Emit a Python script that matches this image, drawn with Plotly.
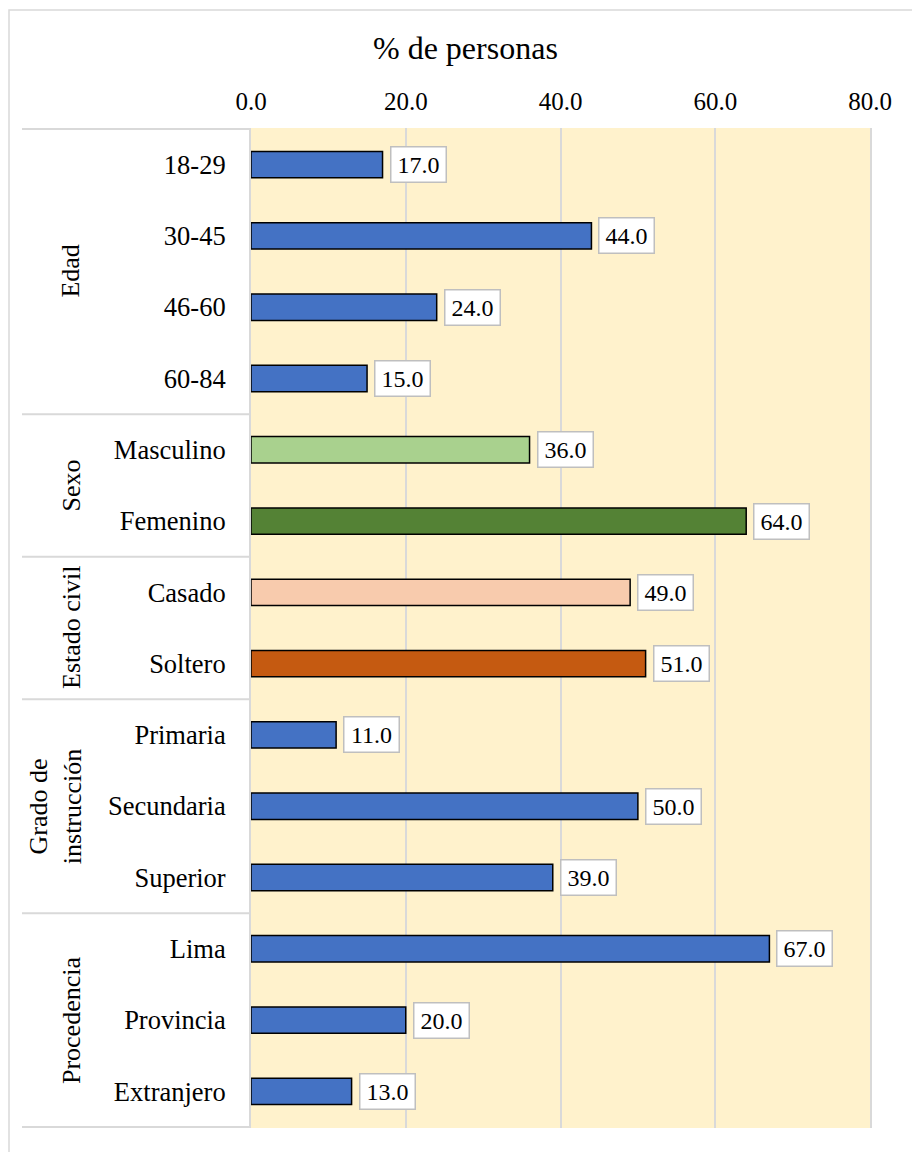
import plotly.graph_objects as go

# Characteristics of the surveyed people (% de personas)
categorias = ["18-29", "30-45", "46-60", "60-84",
              "Masculino", "Femenino",
              "Casado", "Soltero",
              "Primaria", "Secundaria", "Superior",
              "Lima", "Provincia", "Extranjero"]
porcentajes = [17.0, 44.0, 24.0, 15.0,
               36.0, 64.0,
               49.0, 51.0,
               11.0, 50.0, 39.0,
               67.0, 20.0, 13.0]
colores = ["#4472C4", "#4472C4", "#4472C4", "#4472C4",
           "#A9D18E", "#548235",
           "#F8CBAD", "#C55A11",
           "#4472C4", "#4472C4", "#4472C4",
           "#4472C4", "#4472C4", "#4472C4"]

# Groups: (label, first index, last index, label column x in px)
grupos = [("Edad", 0, 3, 71),
          ("Sexo", 4, 5, 71),
          ("Estado civil", 6, 7, 71),
          ("Grado de<br>instrucción", 8, 10, 55),
          ("Procedencia", 11, 13, 71)]
ticks_x = [0, 20, 40, 60, 80]

FONT = "Liberation Serif"
W, H = 912, 1152
L, R, T, B = 251, 42, 128, 24
plot_w = W - L - R
plot_h = H - T - B


def px_to_paper_x(px):
    return (px - L) / plot_w


def px_to_paper_y(py):
    return (H - B - py) / plot_h


fig = go.Figure()
fig.add_trace(go.Bar(
    x=porcentajes,
    y=categorias,
    orientation="h",
    width=0.37,
    marker=dict(color=colores, line=dict(color="#000000", width=1.5)),
    hoverinfo="x+y",
))

annotations = []
# Value labels in white boxes beside each bar
for cat, val in zip(categorias, porcentajes):
    annotations.append(dict(
        x=val, y=cat, xref="x", yref="y",
        text=f"{val:.1f}", showarrow=False,
        xanchor="left", yanchor="middle", xshift=7,
        width=46,
        font=dict(family=FONT, size=24, color="#000000"),
        bgcolor="#FFFFFF", bordercolor="#BFBFBF", borderwidth=1.5,
        borderpad=4,
    ))

# Group labels, rotated
for nombre, i0, i1, gx in grupos:
    annotations.append(dict(
        x=px_to_paper_x(gx), y=(i0 + i1) / 2, xref="paper", yref="y",
        text=nombre, showarrow=False, textangle=-90,
        xanchor="center", yanchor="middle",
        font=dict(family=FONT, size=26, color="#000000"),
    ))

# Axis title centred over the chart
annotations.append(dict(
    x=px_to_paper_x(465), y=px_to_paper_y(48), xref="paper", yref="paper",
    text="% de personas", showarrow=False,
    xanchor="center", yanchor="middle",
    font=dict(family=FONT, size=32, color="#000000"),
))

shapes = []
# Outer frame of the chart
shapes.append(dict(
    type="rect", xref="paper", yref="paper",
    x0=px_to_paper_x(9), x1=px_to_paper_x(930),
    y0=px_to_paper_y(1170), y1=px_to_paper_y(10),
    line=dict(color="#D9D9D9", width=1.5), fillcolor="rgba(0,0,0,0)",
    layer="below",
))
# Group separators in the label column
bordes = [-0.5] + [g[2] + 0.5 for g in grupos]
for yb in bordes:
    shapes.append(dict(
        type="line", xref="paper", yref="y",
        x0=px_to_paper_x(22), x1=0, y0=yb, y1=yb,
        line=dict(color="#D9D9D9", width=2),
    ))

fig.update_layout(
    width=W, height=H,
    margin=dict(l=L, r=R, t=T, b=B),
    paper_bgcolor="#FFFFFF",
    plot_bgcolor="#FFF2CC",
    showlegend=False,
    annotations=annotations,
    shapes=shapes,
    font=dict(family=FONT, color="#000000"),
)
fig.update_xaxes(
    side="top", range=[0, 80], tickvals=ticks_x,
    ticktext=[f"{t:.1f}" for t in ticks_x],
    showgrid=True, gridcolor="#D9D9D9", gridwidth=2,
    zeroline=False, showline=False, ticks="",
    ticklabelstandoff=12,
    tickfont=dict(family=FONT, size=25, color="#000000"),
    fixedrange=True,
)
fig.update_yaxes(
    type="category", categoryorder="array", categoryarray=categorias,
    autorange="reversed",
    showgrid=False, zeroline=False,
    showline=True, mirror=True, linecolor="#D9D9D9", linewidth=2,
    ticks="", ticklabelstandoff=18,
    tickfont=dict(family=FONT, size=26.5, color="#000000"),
    fixedrange=True,
)

fig.write_html("out.html")
